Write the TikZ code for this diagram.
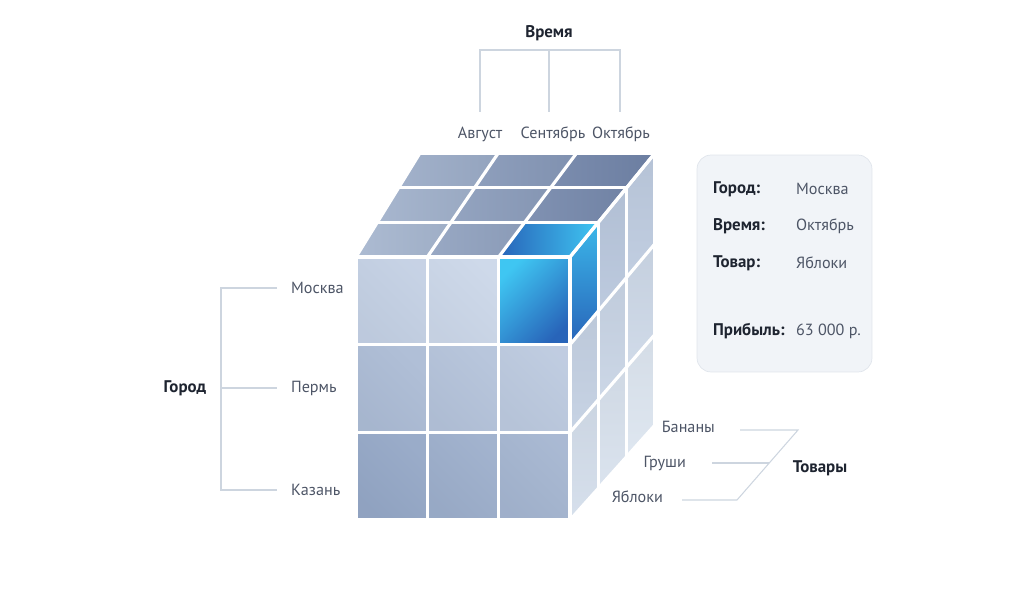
\documentclass[tikz,border=0pt]{standalone}
\usepackage{fontspec}
\setmainfont{PT Sans}
\usetikzlibrary{positioning, calc}
\definecolor{frontDark}{RGB}{148,167,198}
\definecolor{frontLight}{RGB}{215,225,240}
\definecolor{topDark}{RGB}{95,115,155}
\definecolor{topLight}{RGB}{165,181,206}
\definecolor{sideDark}{RGB}{180,195,218}
\definecolor{sideLight}{RGB}{225,233,242}
\definecolor{hotLight}{RGB}{63,198,242}
\definecolor{hotDark}{RGB}{40,100,185}
\definecolor{labelGray}{RGB}{77,85,102}
\definecolor{headInk}{RGB}{30,36,48}
\definecolor{bracketGray}{RGB}{205,213,223}
\definecolor{boxFill}{RGB}{241,244,248}
\definecolor{boxLine}{RGB}{224,229,236}

\tikzset{
  lbl/.style={font=\fontsize{9.2}{11}\selectfont, text=labelGray, inner sep=1pt},
  head/.style={font=\fontsize{9.6}{11}\selectfont\bfseries, text=headInk, inner sep=1pt},
  bracket/.style={draw=bracketGray, line width=0.6pt},
  gap/.style={draw=white, line width=1.8pt, line cap=round},
  infobox/.style={draw=boxLine, fill=boxFill, rounded corners=8pt, minimum width=3.5cm, minimum height=4.34cm},
}

\begin{document}
\begin{tikzpicture}[x=0.02cm, y=-0.02cm]
  \useasboundingbox (0,0) rectangle (1017,604);

  % Cube grid points: column i, row j, depth k
  \foreach \i in {0,...,3} {
    \foreach \j in {0,...,3} {
      \foreach \k in {0,...,3} {
        \coordinate (p\i\j\k) at ({356+71.33*\i+\k*(64+7*\i)/3}, {257+87.67*\j-\k*(104-3*\j)/3});
      }
    }
  }

  % Front face
  \foreach \i [evaluate=\i as \ii using int(\i+1)] in {0,1,2} {
    \foreach \j [evaluate=\j as \jj using int(\j+1), evaluate=\j as \t using int((2-\j)*35+\i*12)] in {0,1,2} {
      \colorlet{cell}{frontLight!\t!frontDark}
      \shade[rounded corners=2pt, top color=cell!94!white, bottom color=cell!97!black, shading angle=-45]
        (p\i\j0) -- (p\ii\j0) -- (p\ii\jj0) -- (p\i\jj0) -- cycle;
    }
  }
  % Top face
  \foreach \i [evaluate=\i as \ii using int(\i+1)] in {0,1,2} {
    \foreach \k [evaluate=\k as \kk using int(\k+1), evaluate=\k as \t using int(100-\i*30-\k*8)] in {0,1,2} {
      \colorlet{cell}{topLight!\t!topDark}
      \shade[rounded corners=2pt, left color=cell!92!white, right color=cell!96!black]
        (p\i0\k) -- (p\ii0\k) -- (p\ii0\kk) -- (p\i0\kk) -- cycle;
    }
  }
  % Right face
  \foreach \j [evaluate=\j as \jj using int(\j+1)] in {0,1,2} {
    \foreach \k [evaluate=\k as \kk using int(\k+1), evaluate=\k as \t using int(\j*35+\k*10)] in {0,1,2} {
      \colorlet{cell}{sideLight!\t!sideDark}
      \shade[rounded corners=2pt, top color=cell!96!black, bottom color=cell!94!white]
        (p3\j\k) -- (p3\j\kk) -- (p3\jj\kk) -- (p3\jj\k) -- cycle;
    }
  }

  % Selected cell
  \shade[rounded corners=2pt, top color=hotLight, bottom color=hotDark, shading angle=45]
    (p200) -- (p300) -- (p310) -- (p210) -- cycle;
  \shade[rounded corners=2pt, left color=hotDark, right color=hotLight]
    (p200) -- (p300) -- (p301) -- (p201) -- cycle;
  \shade[rounded corners=2pt, top color=hotLight!85!hotDark, bottom color=hotDark]
    (p300) -- (p301) -- (p311) -- (p310) -- cycle;

  % White gaps
  \foreach \n in {0,...,3} {
    \draw[gap] (p\n00) -- (p\n30);
    \draw[gap] (p0\n0) -- (p3\n0);
    \draw[gap] (p\n00) -- (p\n03);
    \draw[gap] (p00\n) -- (p30\n);
    \draw[gap] (p30\n) -- (p33\n);
    \draw[gap] (p3\n0) -- (p3\n3);
  }

  % Time axis
  \node[head] (time) at (549,33) {Время};
  \coordinate (tL) at (480,50);
  \coordinate (tM) at (549,50);
  \coordinate (tR) at (620,50);
  \coordinate (tLb) at (480,112);
  \coordinate (tMb) at (549,112);
  \coordinate (tRb) at (620,112);
  \draw[bracket] (tLb) -- (tL) -- (tR) -- (tRb);
  \draw[bracket] (tM) -- (tMb);
  \node[lbl] (aug) at (480,134) {Август};
  \node[lbl] (sep) at (553,134) {Сентябрь};
  \node[lbl] (oct) at (621,134) {Октябрь};

  % City axis
  \node[head] (city) at (185,388) {Город};
  \coordinate (cT) at (221,288);
  \coordinate (cM) at (221,388);
  \coordinate (cB) at (221,490);
  \coordinate (cTe) at (277,288);
  \coordinate (cMe) at (277,388);
  \coordinate (cBe) at (277,490);
  \draw[bracket] (cTe) -- (cT) -- (cB) -- (cBe);
  \draw[bracket] (cM) -- (cMe);
  \node[lbl, anchor=west] (msk) at (289,288) {Москва};
  \node[lbl, anchor=west] (prm) at (289,388) {Пермь};
  \node[lbl, anchor=west] (kzn) at (289,490) {Казань};

  % Goods axis
  \node[head] (goods) at (820,468) {Товары};
  \coordinate (gT) at (740,430);
  \coordinate (gTe) at (798,430);
  \coordinate (gB) at (682,500);
  \coordinate (gBe) at (737,500);
  \coordinate (gM) at (712,463);
  \coordinate (gMe) at (769,463);
  \draw[bracket] (gT) -- (gTe) -- (gBe) -- (gB);
  \draw[bracket] (gM) -- (gMe);
  \node[lbl, anchor=east] (ban) at (717,427) {Бананы};
  \node[lbl, anchor=east] (pear) at (688,463) {Груши};
  \node[lbl, anchor=east] (apl) at (665,497) {Яблоки};

  % Info box
  \node[infobox] (info) at (784.5,263.5) {};
  \node[head, anchor=west] (kCity) at (711,189) {Город:};
  \node[head, anchor=west] (kTime) at (711,226) {Время:};
  \node[head, anchor=west] (kGood) at (711,263) {Товар:};
  \node[head, anchor=west] (kProf) at (711,331) {Прибыль:};
  \node[lbl, anchor=west] (vCity) at (794,189) {Москва};
  \node[lbl, anchor=west] (vTime) at (794,226) {Октябрь};
  \node[lbl, anchor=west] (vGood) at (794,263) {Яблоки};
  \node[lbl, anchor=west] (vProf) at (794,331) {63 000 р.};
\end{tikzpicture}
\end{document}
